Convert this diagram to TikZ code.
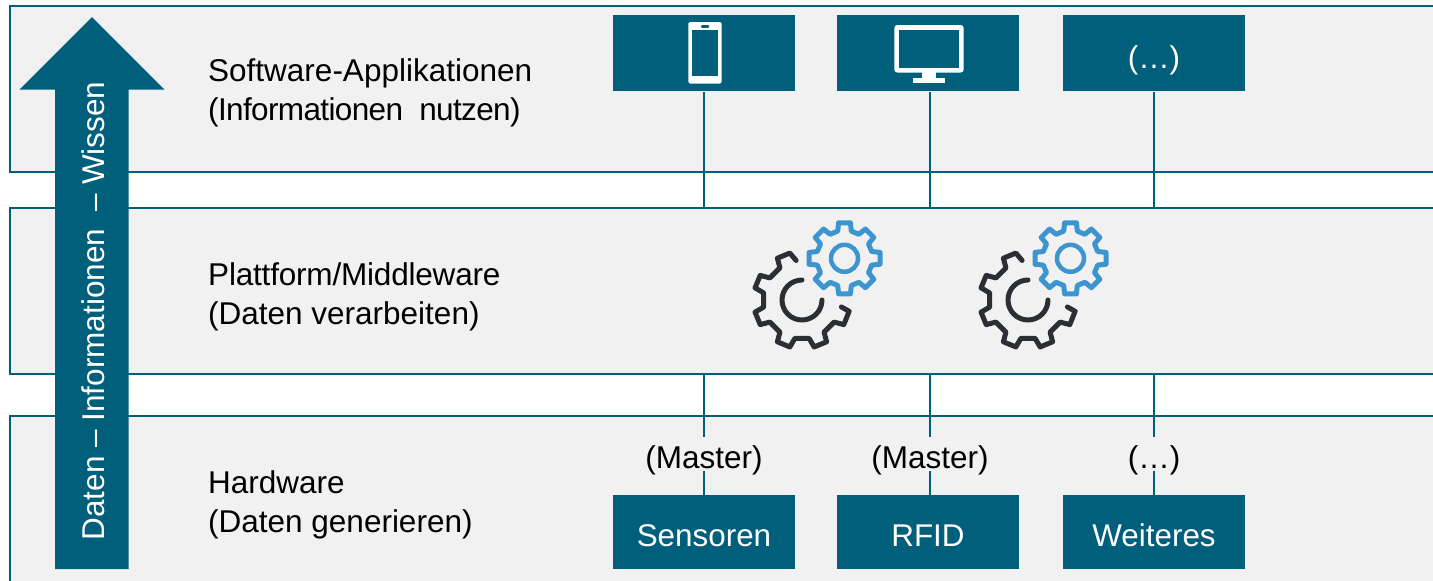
\documentclass[tikz,border=0pt]{standalone}
\usepackage{fontspec}
\setmainfont{Liberation Sans}
\definecolor{teal1}{HTML}{005F7A}
\definecolor{bandgray}{HTML}{F1F1F1}
\definecolor{gearblue}{HTML}{3D95CF}
\definecolor{geardark}{HTML}{2B2F33}
\newcommand{\lowtxt}[2]{\raisebox{#1}[0pt][0pt]{#2}}
\tikzset{
  band/.style={draw=teal1,line width=2pt,fill=bandgray,rectangle,inner sep=0pt,anchor=north west,minimum width=1460pt},
  bluebox/.style={fill=teal1,text=white,rectangle,inner sep=0pt,minimum width=182pt,font=\fontsize{31.4}{36}\selectfont},
  link/.style={draw=teal1,line width=1.6pt},
  layerlabel/.style={anchor=west,align=left,inner sep=0pt,font=\fontsize{31.5}{38.5}\selectfont,text=black},
  taglabel/.style={inner sep=0pt,minimum height=34pt,font=\fontsize{31.5}{36}\selectfont,text=black},
  gearline/.style={line width=5pt,line join=round,line cap=round}
}
\begin{document}
\begin{tikzpicture}[x=1pt,y=-1pt]
\clip (0,0) rectangle (1433,581);
\fill[white] (0,0) rectangle (1433,581);
% bands
\node[band,minimum height=166.3pt] (top) at (9,4.7) {};
\node[band,minimum height=166.3pt] (mid) at (9,206.7) {};
\node[band,minimum height=190pt] (bot) at (9,414.7) {};
% top boxes
\node[bluebox,minimum height=76pt] (app1) at (704,53) {};
\node[bluebox,minimum height=76pt] (app2) at (928,53) {};
\node[bluebox,minimum height=76pt] (app3) at (1154,53) {\lowtxt{-15pt}{(…)}};
% bottom boxes
\node[bluebox,minimum height=74pt] (hw1) at (704,532) {\lowtxt{-14pt}{Sensoren}};
\node[bluebox,minimum height=74pt] (hw2) at (928,532) {\lowtxt{-14pt}{RFID}};
\node[bluebox,minimum height=74pt] (hw3) at (1154,532) {\lowtxt{-14pt}{Weiteres}};
% tags
\node[taglabel] (tag1) at (704,454) {\lowtxt{-14pt}{(Master)}};
\node[taglabel] (tag2) at (930,454) {\lowtxt{-14pt}{(Master)}};
\node[taglabel] (tag3) at (1154,454) {\lowtxt{-14pt}{(…)}};
% connectors
\draw[link,shorten <=1pt] (app1.south) -- (app1.south |- mid.north);
\draw[link,shorten <=1pt] (930,91) coordinate (c2) -- (c2 |- mid.north);
\draw[link,shorten <=1pt] (app3.south) -- (app3.south |- mid.north);
\draw[link] (tag1 |- mid.south) -- (tag1.north);
\draw[link] (tag2 |- mid.south) -- (tag2.north);
\draw[link] (tag3 |- mid.south) -- (tag3.north);
\draw[link] (tag1.south) -- (tag1 |- hw1.north);
\draw[link] (tag2.south) -- (tag2 |- hw2.north);
\draw[link] (tag3.south) -- (tag3 |- hw3.north);
% arrow
\fill[teal1] (92,17) -- (164.5,89.5) -- (128.5,89.5) -- (128.5,569) -- (55,569) -- (55,89.5) -- (19.5,89.5) -- cycle;
\node[rotate=90,text=white,inner sep=0pt,font=\fontsize{31.5}{36}\selectfont] (flow) at (93,311) {Daten – Informationen\ \ – Wissen};
% labels
\node[layerlabel] (l1) at (208,93) {Software-Applikationen\\{\addfontfeature{LetterSpace=-2}(Informationen\ \ nutzen)}};
\node[layerlabel] (l2) at (208,297) {{\addfontfeature{LetterSpace=-0.6}Plattform/Middleware}\\(Daten verarbeiten)};
\node[layerlabel] (l3) at (208,505) {Hardware\\(Daten generieren)};
% phone icon
\fill[white,rounded corners=1.5pt] (688.3,22) rectangle (721.7,83.5);
\fill[teal1] (692.3,30.3) rectangle (717.7,75.7);
\fill[teal1,rounded corners=1pt] (701,25) rectangle (709,27.8);
% monitor icon
\fill[white,rounded corners=3pt] (894.3,25) rectangle (963.7,72.5);
\fill[teal1] (899.3,30) rectangle (959,67.7);
\fill[white] (922.3,72) rectangle (935.7,78);
\fill[white] (913.3,77.7) rectangle (944.7,82.7);
% gears
\foreach \gx in {0,226}{
  \begin{scope}[shift={(\gx,0)}]
  % blue gear
  \begin{scope}[shift={(844.5,258.3)}]
    \draw[gearblue,gearline]
      \foreach \a in {0,45,...,315}{
        (\a-9.5:36) -- (\a+9.5:36) -- (\a+14:28) -- (\a+31:28) -- (\a+35.5:36)
      };
    \draw[gearblue,line width=4.5pt] (0,0) circle (13.5);
  \end{scope}
  % dark gear
  \begin{scope}[shift={(802,300)}]
    \draw[geardark,gearline]
      (10:40) -- (13.5:48.5) -- (30.5:48.5) -- (34.5:39)
      -- (55.5:39) -- (59.5:48.5) -- (75.5:48.5) -- (79.5:39)
      -- (100.5:39) -- (104.5:48.5) -- (120.5:48.5) -- (124.5:39)
      -- (145.5:39) -- (149.5:48.5) -- (165.5:48.5) -- (169.5:39)
      -- (190.5:39) -- (194.5:48.5) -- (210.5:48.5) -- (214.5:39)
      -- (235.5:39) -- (239.5:48.5) -- (255.5:48.5) -- (261.5:40);
    \draw[geardark,gearline] (-90:20) arc[start angle=-90,end angle=-360,radius=20];
  \end{scope}
  \end{scope}
}
\end{tikzpicture}
\end{document}
